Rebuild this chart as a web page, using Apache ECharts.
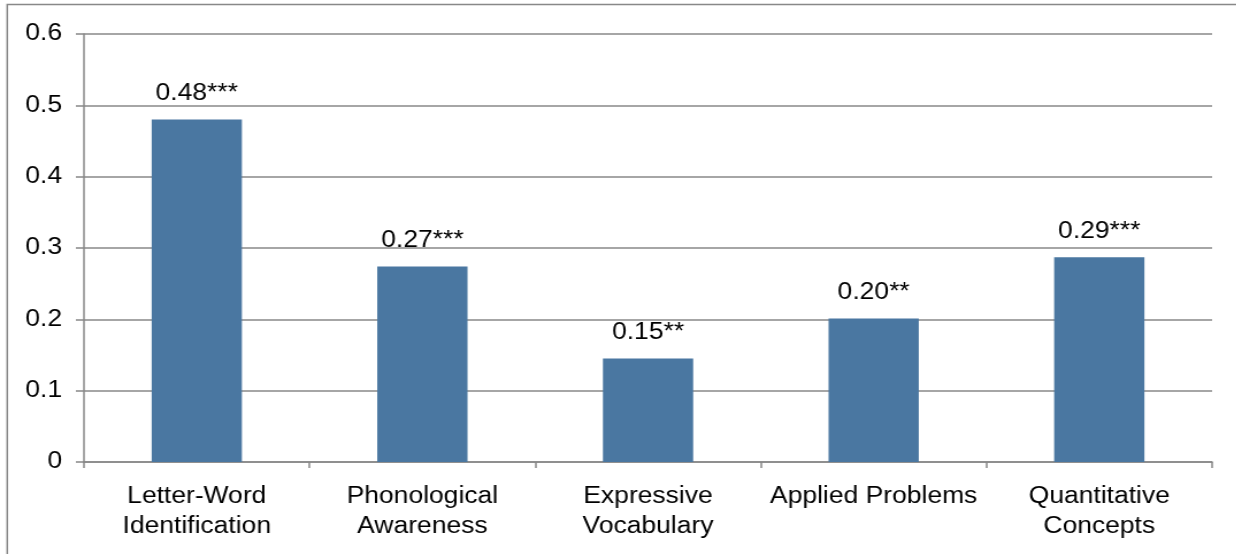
<!DOCTYPE html>
<html>
<head>
<meta charset="utf-8">
<script src="https://cdn.jsdelivr.net/npm/echarts@6/dist/echarts.min.js"></script>
<style>
  html, body { margin: 0; padding: 0; background: #fff; overflow: hidden; }
  /* the source picture is stretched a little sideways, so the chart is too */
  #chart { width: 1075px; height: 554px; transform: scaleX(1.15); transform-origin: 0 0; }
</style>
</head>
<body>
<div id="chart"></div>
<script>
// Effect sizes by outcome, with significance stars on the labels.
const categories = [
  'Letter-Word\nIdentification',
  'Phonological\nAwareness',
  'Expressive\nVocabulary',
  'Applied Problems',
  'Quantitative\nConcepts',
];
const values = [0.48, 0.274, 0.145, 0.201, 0.287];
const valueLabels = ['0.48***', '0.27***', '0.15**', '0.20**', '0.29***'];

const FONT = "'Liberation Sans', Arial, sans-serif";
const GRAY = '#888888';

const chart = echarts.init(document.getElementById('chart'));

chart.setOption({
  animation: false,
  textStyle: { fontFamily: FONT },
  graphic: [{
    type: 'rect',
    shape: { x: 6.3, y: 4.5, width: 1300, height: 700 },
    style: { fill: 'none', stroke: GRAY, lineWidth: 1.5 },
    silent: true,
  }],
  grid: { left: 73, right: 21, top: 34, bottom: 92 },
  xAxis: {
    type: 'category',
    data: categories,
    axisLine: { lineStyle: { color: GRAY, width: 1.5 } },
    axisTick: { show: true, length: 6, lineStyle: { color: GRAY, width: 1.5 } },
    axisLabel: {
      color: '#000', fontSize: 23, lineHeight: 30, margin: 20, interval: 0,
      fontFamily: FONT,
    },
  },
  yAxis: {
    type: 'value',
    min: 0, max: 0.6, interval: 0.1,
    axisLine: { show: true, lineStyle: { color: GRAY, width: 1.5 } },
    axisTick: { show: true, length: 7, lineStyle: { color: GRAY, width: 1.5 } },
    splitLine: { lineStyle: { color: GRAY, width: 1.5 } },
    axisLabel: {
      color: '#000', fontSize: 23, margin: 19, fontFamily: FONT,
      formatter: (v) => (v === 0 ? '0' : v.toFixed(1)),
    },
  },
  series: [{
    type: 'bar',
    data: values,
    barWidth: '40%',
    itemStyle: { color: '#4a77a1' },
    label: {
      show: true, position: 'top', distance: 14,
      color: '#000', fontSize: 23, fontFamily: FONT,
      formatter: (p) => valueLabels[p.dataIndex],
    },
  }],
});
</script>
</body>
</html>
